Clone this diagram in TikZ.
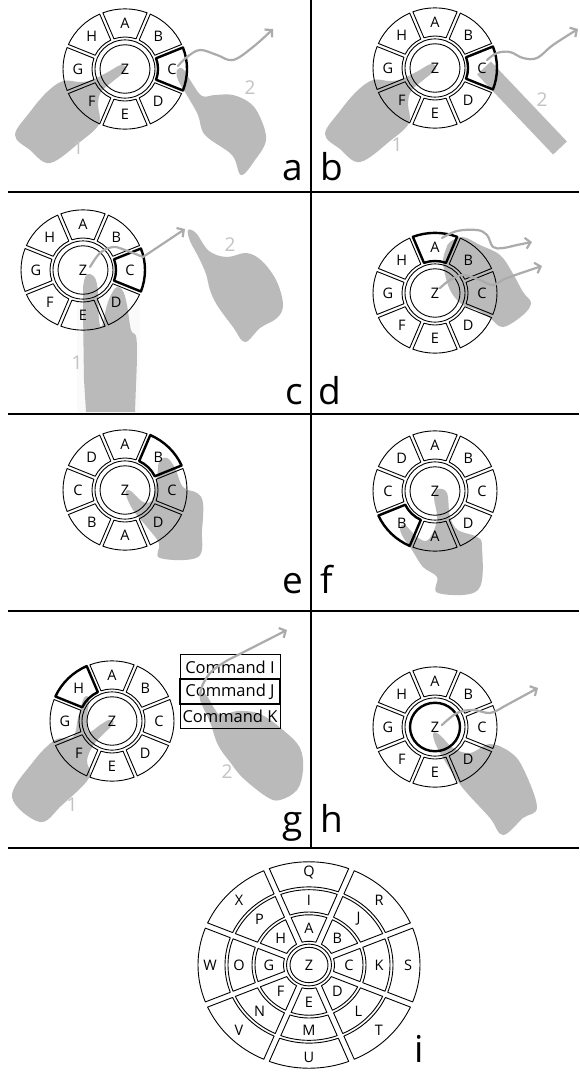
\documentclass[tikz,border=0pt]{standalone}
\usepackage{fontspec}
\setmainfont{Open Sans}
\usetikzlibrary{arrows.meta}
\definecolor{handgray}{gray}{0.73}
\definecolor{trailgray}{gray}{0.67}
\definecolor{numgray}{gray}{0.76}

\tikzset{
  wedge/.style={draw=black, line width=0.9pt, line join=round},
  hot/.style={line width=2.4pt},
  cur/.style={},
  ringline/.style={draw=black, line width=0.9pt},
  lbl/.style={font=\fontsize{14.5}{14.5}\selectfont, inner sep=0pt},
  hand/.style={fill=handgray},
  trail/.style={draw=trailgray, line width=2.2pt, line cap=round, line join=round, -{Straight Barb[length=5pt,width=11pt]}},
  num/.style={text=numgray, font=\fontsize{19}{19}\selectfont, inner sep=0pt},
  tag/.style={font=\fontsize{37}{37}\selectfont, inner sep=0pt},
  divider/.style={line width=2pt},
  cmd/.style={draw, line width=0.9pt, minimum width=100pt, minimum height=24.5pt, inner sep=0pt, font=\fontsize{16.5}{16.5}\selectfont},
}

\newcommand{\halfgap}{1.7}
\newcommand{\squash}{0.97}
% one wedge of a ring: [style]{cx}{cy}{mid angle}{inner r}{outer r}
\newcommand{\menuwedge}[6][]{%
  \pgfmathsetmacro{\wgA}{#4-22.5+asin(\halfgap/#6)}%
  \pgfmathsetmacro{\wgB}{#4+22.5-asin(\halfgap/#6)}%
  \pgfmathsetmacro{\wgC}{#4+22.5-asin(\halfgap/#5)}%
  \pgfmathsetmacro{\wgD}{#4-22.5+asin(\halfgap/#5)}%
  \draw[wedge,shift={(#2,#3)},yscale=\squash,#1] (\wgA:#6) arc[start angle=\wgA,end angle=\wgB,radius=#6] -- (\wgC:#5) arc[start angle=\wgC,end angle=\wgD,radius=#5] -- cycle;%
}
% eight-wedge menu: {name}{cx}{cy}{labels clockwise from top}{highlighted wedge or -1}
\newcommand{\piemenu}[5]{%
  \draw[ringline,shift={(#2,#3)},yscale=\squash] (0,0) circle[radius=25];
  \draw[ringline,shift={(#2,#3)},yscale=\squash] (0,0) circle[radius=30];
  \node[lbl] (#1-z) at (#2,#3) {Z};
  \foreach \lab [count=\idx from 0] in {#4} {%
    \pgfmathsetmacro{\ang}{-90+45*\idx}%
    \ifnum\idx=#5\relax \tikzset{cur/.style={hot}}\fi
    \menuwedge[cur]{#2}{#3}{\ang}{33}{62}%
    \path[shift={(#2,#3)},yscale=\squash] (\ang:47) node[lbl] (#1-\idx) {\lab};%
  }%
}
% one ring of the large menu: {name}{labels}{inner r}{outer r}{label r}
\newcommand{\bigring}[5]{%
  \foreach \lab [count=\idx from 0] in {#2} {%
    \pgfmathsetmacro{\ang}{-90+45*\idx}%
    \menuwedge{309}{965}{\ang}{#3}{#4}%
    \path[shift={(309,965)},yscale=\squash] (\ang:#5) node[lbl] (#1-\idx) {\lab};%
  }%
}
% left hand pointing with the index finger (panels a, b)
\newcommand{\lefthand}{%
  \fill[hand] plot[smooth cycle, tension=0.6] coordinates {(15,135) (30,112) (47,92) (63,81) (80,82) (92,80) (108,72) (121,65) (126,70) (112,82) (101,92) (98,105) (99,124) (80,142) (50,163) (30,150)};%
}

\begin{document}
\begin{tikzpicture}[x=1pt,y=1pt,yscale=-1]
\useasboundingbox (0,0) rectangle (579,1072);
\fill[white] (0,0) rectangle (579,1072);

% ---------- hands ----------
% a
\lefthand
\fill[hand] plot[smooth cycle, tension=0.6] coordinates {(177,70) (183,69) (192,83) (202,96) (215,95) (233,95) (250,103) (260,117) (266,140) (255,160) (241,175) (232,155) (205,135) (198,115) (188,97) (178,80)};
% b
\begin{scope}[shift={(310,-1)}]\lefthand\end{scope}
\draw[handgray, line width=19pt] (484,68) -- (560,148);
% c
\fill[black!2] (77,300) rectangle (140,412);
\fill[hand] (86,412) -- plot[smooth, tension=0.6] coordinates {(84,380) (83,300) (84,281) (88,274) (95,278) (98,292) (99,320) (102,326) (107,305) (112,293) (117,287) (123,291) (127,305) (131,330) (136,336) (137,355) (136,385)} -- (135,412) -- cycle;
\fill[hand] plot[smooth cycle, tension=0.6] coordinates {(188,230) (196,233) (209,251) (227,257) (247,253) (263,262) (277,282) (283,305) (277,318) (260,328) (245,342) (233,327) (217,305) (210,290) (206,274) (199,258) (190,241)};
% d
\fill[hand] plot[smooth cycle, tension=0.6] coordinates {(450,242) (463,237) (480,245) (500,255) (512,272) (523,292) (531,303) (523,315) (503,327) (490,318) (477,310) (463,305) (453,295) (447,282) (443,262) (446,249)};
% e
\fill[hand] plot[smooth cycle, tension=0.6] coordinates {(127,490) (132,492) (143,502) (152,500) (157,480) (159,462) (167,458) (175,468) (183,487) (197,493) (203,503) (202,530) (198,557) (160,558) (159,543) (147,527) (133,510) (126,495)};
% f
\fill[hand] plot[smooth cycle, tension=0.6] coordinates {(438,489) (447,493) (450,517) (458,530) (477,537) (482,547) (478,590) (438,593) (437,577) (423,567) (412,550) (403,537) (400,528) (405,525) (417,537) (428,540) (437,520) (434,497)};
% g
\fill[hand] plot[smooth cycle, tension=0.6] coordinates {(12,797) (33,762) (55,740) (73,737) (78,718) (84,698) (89,699) (87,718) (89,732) (100,725) (109,720) (113,724) (95,743) (87,760) (89,778) (62,805) (40,822)};
\fill[hand] plot[smooth cycle, tension=0.6] coordinates {(202,693) (207,696) (220,715) (237,711) (260,714) (283,730) (300,748) (303,770) (297,790) (280,800) (267,797) (243,778) (230,762) (218,745) (210,722) (200,700)};
% h
\fill[hand] plot[smooth cycle, tension=0.6] coordinates {(435,732) (442,737) (453,748) (470,753) (490,744) (510,752) (523,768) (537,807) (523,818) (503,835) (490,818) (467,793) (457,780) (443,758) (436,745) (433,735)};

% ---------- menus ----------
\piemenu{ma}{125}{69}{A,B,C,D,E,F,G,H}{2}
\piemenu{mb}{435}{68}{A,B,C,D,E,F,G,H}{2}
\piemenu{mc}{83}{270}{A,B,C,D,E,F,G,H}{2}
\piemenu{md}{435}{293}{A,B,C,D,E,F,G,H}{0}
\piemenu{me}{125}{490}{A,B,C,D,A,B,C,D}{1}
\piemenu{mf}{435}{491}{A,B,C,D,A,B,C,D}{5}
\piemenu{mg}{112}{721}{A,B,C,D,E,F,G,H}{7}
\piemenu{mh}{435}{727}{A,B,C,D,E,F,G,H}{-1}
\draw[line width=2.4pt, shift={(435,727)}, yscale=0.97] (0,0) circle[radius=25];

% command list
\node[cmd] (ci) at (230,667) {Command I};
\node[cmd] (ck) at (230,716.5) {Command K};
\node[cmd, line width=2.4pt] (cj) at (230,691.5) {Command J};

% large three-ring menu
{\renewcommand{\halfgap}{3}\renewcommand{\squash}{0.93}%
 \draw[ringline,shift={(309,965)},yscale=\squash] (0,0) circle[radius=19];
 \draw[ringline,shift={(309,965)},yscale=\squash] (0,0) circle[radius=22.5];
 \node[lbl] (mi-z) at (309,965) {Z};
 \bigring{mi1}{A,B,C,D,E,F,G,H}{25.5}{54}{40}
 \bigring{mi2}{I,J,K,L,M,N,O,P}{57}{81}{70}
 \bigring{mi3}{Q,R,S,T,U,V,W,X}{84}{111}{99}
}

% ---------- finger paths ----------
\draw[trail] plot[smooth, tension=0.6] coordinates {(178,66) (187,57) (200,50) (217,55) (233,60) (253,47) (273,29)};
\draw[trail] plot[smooth, tension=0.6] coordinates {(487,60) (497,53) (510,52) (523,58) (537,58) (553,45) (578,29)};
\draw[trail] plot[smooth, tension=0.6] coordinates {(90,267) (100,253) (113,247) (125,250) (143,257)} -- (185,229);
\draw[trail] plot[smooth, tension=0.6] coordinates {(442,238) (457,231) (477,230) (487,235) (493,247) (503,248) (517,245) (532,242)};
\draw[trail] plot[smooth, tension=0.6] coordinates {(440,288) (450,280) (463,275) (480,280) (493,285) (507,278) (542,266)};
\draw[trail] plot[smooth, tension=0.6] coordinates {(200,695) (203,684) (212,671) (228,660)} -- (287,630);
\draw[trail] plot[smooth, tension=0.6] coordinates {(442,725) (457,713) (473,710) (490,713) (503,707)} -- (538,688);

% finger numbers
\node[num] (a1) at (78,148) {1};
\node[num] (a2) at (250,88) {2};
\node[num] (b1) at (397,145) {1};
\node[num] (b2) at (542,100) {2};
\node[num] (c1) at (77,363) {1};
\node[num] (c2) at (230,245) {2};
\node[num] (g1) at (72,805) {1};
\node[num] (g2) at (227,772) {2};

% ---------- panel grid ----------
\draw[divider] (8,192) -- (579,192);
\draw[divider] (8,414) -- (579,414);
\draw[divider] (8,611) -- (579,611);
\draw[divider] (8,848) -- (579,848);
\draw[divider] (311,0) -- (311,848);

\node[tag, anchor=base east] (ta) at (303,180) {a};
\node[tag, anchor=base west] (tb) at (320,180) {b};
\node[tag, anchor=base east] (tc) at (303,404) {c};
\node[tag, anchor=base west] (td) at (318,404) {d};
\node[tag, anchor=base east] (te) at (303,593) {e};
\node[tag, anchor=base west] (tf) at (320,593) {f};
\node[tag, anchor=base east] (tg) at (303,832) {g};
\node[tag, anchor=base west] (th) at (320,832) {h};
\node[tag, anchor=base] (ti) at (419,1062) {i};
\end{tikzpicture}
\end{document}
